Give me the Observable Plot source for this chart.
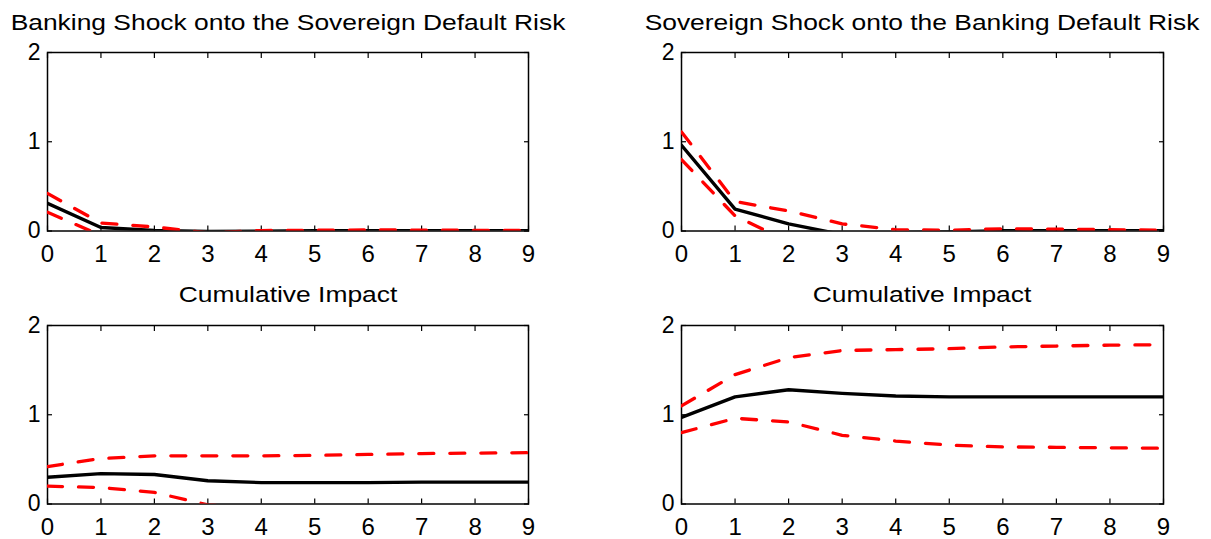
<!DOCTYPE html>
<html><head><meta charset="utf-8">
<script src="https://cdn.jsdelivr.net/npm/d3@7"></script>
<script src="https://cdn.jsdelivr.net/npm/@observablehq/plot@0.6"></script>
<style>
html,body{margin:0;padding:0;background:#fff;}
#wrap{position:relative;width:1211px;height:539px;overflow:hidden;font-family:"Liberation Sans",Arial,sans-serif;}
#wrap > div{position:absolute;}
#wrap .ttl{width:700px;text-align:center;font-size:22px;line-height:22px;height:22px;white-space:nowrap;color:#000;transform:scaleX(1.2);transform-origin:50% 50%;}
</style></head><body><div id="wrap"></div>
<script>
// ---- data ----
const horizons = [0,1,2,3,4,5,6,7,8,9];
const xTicks = [0,1,2,3,4,5,6,7,8,9];
const yTicks = [0,1,2];
const titles = [
  "Banking Shock onto the Sovereign Default Risk",
  "Sovereign Shock onto the Banking Default Risk",
  "Cumulative Impact",
  "Cumulative Impact"
];
// Banking shock -> sovereign default risk (impulse response)
const bankSovMedian = [0.31, 0.04, 0.005, -0.005, -0.003, 0.002, 0.003, 0.003, 0.003, 0.003];
const bankSovUpper  = [0.42, 0.09, 0.045, -0.02, 0.005, 0.008, 0.012, 0.01, 0.008, 0.008];
const bankSovLower  = [0.21, -0.05, -0.06, -0.07, -0.06, -0.05, -0.05, -0.05, -0.05, -0.05];
// Sovereign shock -> banking default risk (impulse response)
const sovBankMedian = [0.96, 0.245, 0.08, -0.04, -0.02, -0.01, 0.003, 0.003, 0.002, 0.002];
const sovBankUpper  = [1.11, 0.33, 0.225, 0.08, 0.015, 0.008, 0.025, 0.02, 0.015, 0.01];
const sovBankLower  = [0.80, 0.17, -0.12, -0.15, -0.12, -0.1, -0.08, -0.07, -0.07, -0.07];
// Cumulative impact, banking -> sovereign
const bankSovCumMedian = [0.30, 0.34, 0.33, 0.26, 0.24, 0.24, 0.24, 0.245, 0.245, 0.245];
const bankSovCumUpper  = [0.42, 0.51, 0.54, 0.54, 0.54, 0.545, 0.555, 0.565, 0.57, 0.575];
const bankSovCumLower  = [0.20, 0.185, 0.13, -0.01, -0.05, -0.07, -0.08, -0.09, -0.09, -0.1];
// Cumulative impact, sovereign -> banking
const sovBankCumMedian = [0.97, 1.20, 1.28, 1.24, 1.21, 1.20, 1.20, 1.20, 1.20, 1.20];
const sovBankCumUpper  = [1.10, 1.45, 1.64, 1.72, 1.73, 1.74, 1.76, 1.77, 1.78, 1.785];
const sovBankCumLower  = [0.80, 0.96, 0.92, 0.77, 0.705, 0.66, 0.64, 0.635, 0.63, 0.625];

// ---- layout ----
const panels = [
  {title: titles[0], m: bankSovMedian, u: bankSovUpper, l: bankSovLower, left: 0, top: 0, width: 605, height: 270, ml: 47, mr: 77, mt: 52, mb: 39.5, tTop: 12},
  {title: titles[1], m: sovBankMedian, u: sovBankUpper, l: sovBankLower, left: 605, top: 0, width: 606, height: 270, ml: 76, mr: 48, mt: 52, mb: 39.5, tTop: 12},
  {title: titles[2], m: bankSovCumMedian, u: bankSovCumUpper, l: bankSovCumLower, left: 0, top: 270, width: 605, height: 269, ml: 47, mr: 77, mt: 55, mb: 35.5, tTop: 284},
  {title: titles[3], m: sovBankCumMedian, u: sovBankCumUpper, l: sovBankCumLower, left: 605, top: 270, width: 606, height: 269, ml: 76, mr: 48, mt: 55, mb: 35.5, tTop: 284}
];

const wrap = document.getElementById("wrap");
const font = "'Liberation Sans', Arial, Helvetica, sans-serif";
const dash = "15,16";

for (const p of panels) {
  const data = horizons.map((h, i) => ({h, median: p.m[i], upper: p.u[i], lower: p.l[i]}));
  const chart = Plot.plot({
    width: p.width, height: p.height,
    marginLeft: p.ml, marginRight: p.mr, marginTop: p.mt, marginBottom: p.mb,
    x: {domain: [0, 9]},
    y: {domain: [0, 2]},
    style: {fontFamily: font, color: "black", background: "transparent", overflow: "visible"},
    marks: [
      Plot.frame({stroke: "black", strokeWidth: 1.5}),
      Plot.axisX(xTicks, {anchor: "bottom", tickSize: 0, tickPadding: 14, fontSize: 24, label: null, tickFormat: d => String(d)}),
      Plot.axisX(xTicks, {anchor: "bottom", tickSize: -5, tickFormat: () => "", label: null, strokeWidth: 1.2}),
      Plot.axisX(xTicks, {anchor: "top", tickSize: -5, tickFormat: () => "", label: null, strokeWidth: 1.2}),
      Plot.axisY(yTicks, {anchor: "left", tickSize: 0, tickPadding: 7, fontSize: 23, label: null, tickFormat: d => String(d)}),
      Plot.axisY(yTicks, {anchor: "left", tickSize: -5, tickFormat: () => "", label: null, strokeWidth: 1.2}),
      Plot.axisY(yTicks, {anchor: "right", tickSize: -5, tickFormat: () => "", label: null, strokeWidth: 1.2}),
      Plot.line(data, {x: "h", y: "median", stroke: "black", strokeWidth: 3.4, clip: true}),
      Plot.line(data, {x: "h", y: "upper", stroke: "#ff0000", strokeWidth: 3.3, strokeDasharray: dash, clip: true}),
      Plot.line(data, {x: "h", y: "lower", stroke: "#ff0000", strokeWidth: 3.3, strokeDasharray: dash, clip: true})
    ]
  });
  const div = document.createElement("div");
  div.style.left = p.left + "px";
  div.style.top = p.top + "px";
  div.appendChild(chart);
  wrap.appendChild(div);

  // panel title centred above the frame
  const frameCenter = p.left + p.ml + (p.width - p.ml - p.mr) / 2;
  const t = document.createElement("div");
  t.className = "ttl";
  t.textContent = p.title;
  t.style.left = (frameCenter - 350) + "px";
  t.style.top = p.tTop + "px";
  wrap.appendChild(t);
}
</script>
</body></html>
